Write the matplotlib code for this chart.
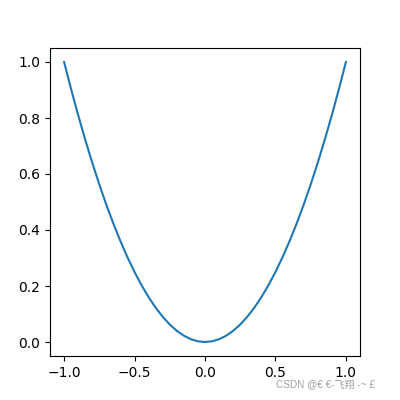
import matplotlib
matplotlib.use('Agg')
import matplotlib.pyplot as plt

# Nilai yang dibaca dari gambar (kurva parabola)
x = [-1.0, -0.95, -0.9, -0.85, -0.8, -0.75, -0.7, -0.65, -0.6, -0.55, -0.5,
     -0.45, -0.4, -0.35, -0.3, -0.25, -0.2, -0.15, -0.1, -0.05, 0.0,
     0.05, 0.1, 0.15, 0.2, 0.25, 0.3, 0.35, 0.4, 0.45, 0.5,
     0.55, 0.6, 0.65, 0.7, 0.75, 0.8, 0.85, 0.9, 0.95, 1.0]
y = [1.0, 0.9025, 0.81, 0.7225, 0.64, 0.5625, 0.49, 0.4225, 0.36, 0.3025, 0.25,
     0.2025, 0.16, 0.1225, 0.09, 0.0625, 0.04, 0.0225, 0.01, 0.0025, 0.0,
     0.0025, 0.01, 0.0225, 0.04, 0.0625, 0.09, 0.1225, 0.16, 0.2025, 0.25,
     0.3025, 0.36, 0.4225, 0.49, 0.5625, 0.64, 0.7225, 0.81, 0.9025, 1.0]

fig = plt.figure(figsize=(4, 4), dpi=100)
ax = fig.add_subplot(111)
ax.plot(x, y, color='#1f77b4')

# watermark
fig.text(0.69, 0.03, 'CSDN @€ €-飞翔 -~ £', fontsize=7.2, color='#a0a0a0',
         family=['Liberation Sans', 'Noto Sans CJK SC', 'DejaVu Sans'])

fig.savefig('out.png', dpi=100)
